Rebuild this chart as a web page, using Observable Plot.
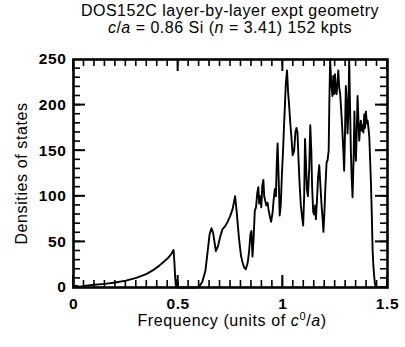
<!DOCTYPE html>
<html><head><meta charset="utf-8">
<script src="https://cdn.jsdelivr.net/npm/d3@7"></script>
<script src="https://cdn.jsdelivr.net/npm/@observablehq/plot@0.6"></script>
<style>
body{margin:0;background:#fff;width:405px;height:347px;overflow:hidden;position:relative;font-family:"Liberation Sans",Arial,sans-serif;color:#000;}
#title{position:absolute;left:30px;width:400px;top:2px;text-align:center;font-size:16px;line-height:17px;letter-spacing:0.5px;}
#chart{position:absolute;left:0;top:48px;}
#chart svg{background:#fff;font-family:"Liberation Sans",Arial,sans-serif;}
#chart text{letter-spacing:0.6px;}
#xlabel{position:absolute;left:73px;width:318px;top:312px;text-align:center;font-size:16px;letter-spacing:0.6px;}
#xlabel sup{font-size:11px;vertical-align:6px;line-height:0;}
</style></head>
<body>
<div id="title">DOS152C layer-by-layer expt geometry<br><i>c</i>/<i>a</i> = 0.86 Si (<i>n</i> = 3.41) 152 kpts</div>
<div id="chart"></div>
<div id="xlabel">Frequency (units of <i>c</i><sup>0</sup>/<i>a</i>)</div>
<script>
const freq = [0,0.01,0.03,0.06,0.1,0.15,0.2,0.25,0.3,0.35,0.38,0.41,0.43,0.45,0.465,0.478,0.482,0.486,0.489,0.492,0.495,0.498,0.5,
0.59,0.6,0.615,0.63,0.64,0.65,0.659,0.667,0.68,0.69,0.7,0.712,0.724,0.736,0.748,0.76,0.772,0.78,0.79,0.8,0.807,0.815,0.823,0.832,0.839,0.845,0.85,0.855,0.86,0.866,0.872,0.878,0.883,0.887,0.892,0.897,0.902,0.907,0.911,0.916,0.921,0.927,0.932,0.938,0.944,0.951,0.956,0.962,0.967,0.971,0.975,0.98,0.985,0.99,0.996,1.001,1.006,1.01,1.014,1.02,1.025,1.03,1.035,1.041,1.047,1.054,1.06,1.065,1.07,1.075,1.08,1.086,1.092,1.097,1.102,1.106,1.11,1.115,1.12,1.126,1.131,1.136,1.14,1.145,1.15,1.155,1.158,1.163,1.168,1.174,1.18,1.185,1.19,1.194,1.199,1.204,1.209,1.214,1.219,1.222,1.226,1.231,1.237,1.241,1.245,1.249,1.253,1.257,1.261,1.265,1.269,1.274,1.28,1.285,1.289,1.293,1.297,1.301,1.305,1.309,1.313,1.317,1.321,1.325,1.329,1.333,1.338,1.342,1.345,1.349,1.353,1.357,1.361,1.365,1.369,1.373,1.377,1.381,1.385,1.389,1.393,1.397,1.401,1.405,1.409,1.413,1.417,1.421,1.425,1.429,1.433,1.437,1.44,1.445,1.45,1.455,1.46,1.464,1.468,1.472,1.476,1.48,1.484,1.488,1.492,1.496];
const dos = [0,2,1,2,3,4,5.5,7.5,10.5,15,19,24,28,32,36,41,28,10,2,8,1,5,0,
0,1,6,18,38,58,65,60,40,45,55,64,67,72,78,86,100,82,55,35,28,22,20,27,40,58,62,34,52,84,88,104,110,92,100,88,112,118,100,95,90,93,85,78,72,82,96,108,100,136,158,120,79,90,126,150,179,200,222,238,215,200,182,165,145,150,170,175,170,140,114,90,78,68,100,163,140,108,100,130,178,150,110,83,80,90,75,95,120,134,110,90,75,61,85,114,137,140,150,200,252,225,210,232,212,234,215,212,225,238,220,212,190,169,150,128,170,221,205,169,190,255,200,150,120,99,140,193,160,139,170,210,185,161,175,183,172,178,170,190,175,193,180,183,175,165,140,114,80,40,22,11,4,0];

const yMajor = [0,50,100,150,200,250];
const xMajor = [0,0.5,1,1.5];
const xMinor = d3.range(0, 1.5001, 0.05);
const yMinor = d3.range(0, 250.01, 10);

const data = freq.map((f, i) => ({f, d: dos[i]}));
const W = 405, H = 265, mT = 11, mB = 26, mL = 73, mR = 18;
const pH = H - mT - mB, pW = W - mL - mR;
const xDom = [0, 1.5], yDom = [0, 250];
// pixel sizes of the tick marks, converted to data units
const ky = (yDom[1] - yDom[0]) / pH, kx = (xDom[1] - xDom[0]) / pW;
const minorLen = 7, majorLen = 12, minorW = 1.6, majorW = 2.0;

function xTicks(vals, len, w, top) {
  return Plot.rect(vals, {
    x1: d => d - w * kx / 2, x2: d => d + w * kx / 2,
    y1: top ? yDom[1] - len * ky : yDom[0], y2: top ? yDom[1] : yDom[0] + len * ky,
    fill: "black"
  });
}
function yTicks(vals, len, w, right) {
  return Plot.rect(vals, {
    y1: d => d - w * ky / 2, y2: d => d + w * ky / 2,
    x1: right ? xDom[1] - len * kx : xDom[0], x2: right ? xDom[1] : xDom[0] + len * kx,
    fill: "black"
  });
}

const chart = Plot.plot({
  width: W, height: H,
  marginTop: mT, marginBottom: mB, marginLeft: mL, marginRight: mR,
  x: {domain: xDom},
  y: {domain: yDom, clamp: true},
  marks: [
    xTicks(xMinor, minorLen, minorW, false),
    xTicks(xMinor, minorLen, minorW, true),
    xTicks(xMajor, majorLen, majorW, false),
    xTicks(xMajor, majorLen, majorW, true),
    yTicks(yMinor, minorLen, minorW, false),
    yTicks(yMinor, minorLen, minorW, true),
    yTicks(yMajor, majorLen, majorW, false),
    yTicks(yMajor, majorLen, majorW, true),
    Plot.line(data, {x: "f", y: "d", stroke: "black", strokeWidth: 1.9, strokeLinejoin: "round"}),
    Plot.frame({stroke: "black", strokeWidth: 2.6}),
    Plot.axisX(xMajor, {tickSize: 0, tickPadding: 10, tickFormat: d => String(d), fontSize: 15.5, fontWeight: "bold", label: null}),
    Plot.axisY(yMajor, {tickSize: 0, tickPadding: 7, tickFormat: d => String(d), fontSize: 15.5, fontWeight: "bold", label: null}),
    Plot.text(["Densities of states"], {text: d => d, frameAnchor: "left", rotate: -90, dx: -52, fontSize: 16, textAnchor: "middle"})
  ]
});
document.getElementById("chart").appendChild(chart);
</script>
</body></html>
